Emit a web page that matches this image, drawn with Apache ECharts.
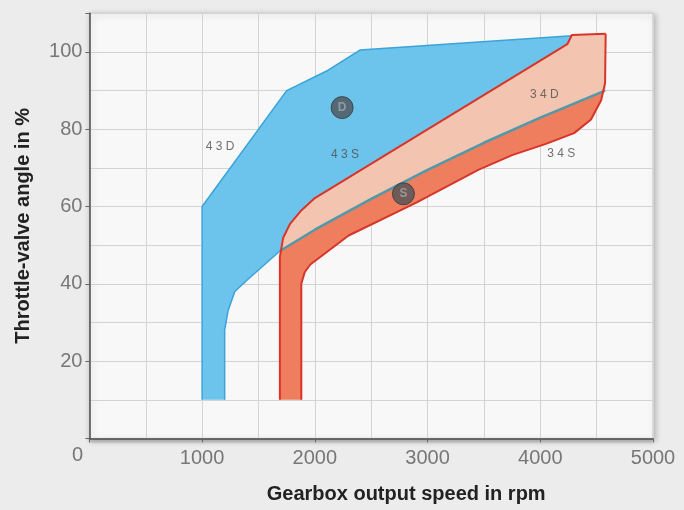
<!DOCTYPE html>
<html>
<head>
<meta charset="utf-8">
<script src="https://cdn.jsdelivr.net/npm/echarts/dist/echarts.min.js"></script>
<style>html,body{margin:0;padding:0;background:#ececec}#c{width:684px;height:510px}</style>
</head>
<body>
<div id="c"></div>
<script>
// ---- data (rpm, throttle %) ----
const xTicks = [0, 1000, 2000, 3000, 4000, 5000];
const yTicks = [0, 20, 40, 60, 80, 100];
// 4-3 downshift D boundary (outer edge of blue region)
const shift43D = [[1000,10],[1000,60],[1750,90],[2100,95],[2400,100.5],[4280,104.2]];
// inner (low-throttle) edge of blue region
const blueInner = [[1200,10],[1200,28],[1230,33],[1290,38],[1400,41],[1690,48.5]];
// 4-3 downshift S line (teal)
const shift43S = [[1690,48.5],[2000,54],[2500,62],[3000,69.5],[3500,76.5],[4000,83],[4575,90]];
// 3-4 upshift D line (upper red)
const shift34D = [[1690,10],[1690,47],[1720,52],[1780,55.5],[1880,59],[2000,62.2],[4240,102],[4280,104.4],[4580,104.7]];
// 3-4 upshift S line (lower red)
const shift34S = [[1880,10],[1880,40],[1910,43],[1960,45],[2300,52.5],[2900,61],[3450,69.5],[3750,73.3],[4050,76.2],[4300,79],[4450,82.5],[4540,87.5],[4575,92],[4580,104.7]];
// region labels
const curveLabels = ['4 3 D', '4 3 S', '3 4 D', '3 4 S'];
const curveLabelPos = [[1160,75.5],[2268,73.4],[4035,88.9],[4186,73.8]];
// circled mode markers
const modeNames = ['D', 'S'];
const modePos = [[2242,85.6],[2786,63.3]];

// polygons built from the boundary arrays
const bluePoly = [...shift43D, [4580,104.5], ...shift43S.slice().reverse(), ...blueInner.slice().reverse()];
const orangePoly = [...shift34D, ...shift34S.slice().reverse()];
const salmonPoly = [...shift34D.filter(p => p[1] >= 47), [4578,90], ...shift43S.slice().reverse()];

function polySeries(poly, fill, z) {
  return {
    type: 'custom', coordinateSystem: 'cartesian2d', z: z, silent: true,
    data: [poly[0]],
    renderItem: function (params, api) {
      return { type: 'polygon', shape: { points: poly.map(p => api.coord(p)) }, style: { fill: fill } };
    }
  };
}
function lineSeries(pts, color, width, z) {
  return { type: 'line', data: pts, symbol: 'none', z: z, silent: true,
    lineStyle: { color: color, width: width, join: 'round' } };
}

const chart = echarts.init(document.getElementById('c'), null, { renderer: 'canvas' });
chart.setOption({
  animation: false,
  backgroundColor: '#ececec',
  textStyle: { fontFamily: 'Liberation Sans, Arial, sans-serif' },
  grid: {
    left: 89.4, right: 31, top: 13.3, bottom: 71.6, show: true,
    backgroundColor: '#f8f8f8', borderColor: '#c4c4c4', borderWidth: 1,
    shadowColor: 'rgba(0,0,0,0.25)', shadowBlur: 6, shadowOffsetX: 2, shadowOffsetY: 2,
    outerBoundsMode: 'none', containLabel: false
  },
  xAxis: {
    type: 'value', min: xTicks[0], max: xTicks[xTicks.length - 1], interval: 1000,
    name: 'Gearbox output speed in rpm', nameLocation: 'middle', nameGap: 46,
    nameTextStyle: { fontSize: 20, fontWeight: 'bold', color: '#222', padding: [0, 0, 0, 70] },
    axisLine: { show: true, lineStyle: { color: '#4a4a4a', width: 1.5, shadowColor: 'rgba(0,0,0,0.35)', shadowBlur: 3, shadowOffsetY: 2 } },
    axisTick: { show: true, length: 4, lineStyle: { color: '#666' } },
    axisLabel: { color: '#777', fontSize: 20, margin: 10, formatter: v => (v === 0 ? '' : String(v)) },
    splitLine: { show: true, lineStyle: { color: '#d3d3d3', width: 1 } },
    minorTick: { show: false, splitNumber: 2 },
    minorSplitLine: { show: true, lineStyle: { color: '#d3d3d3', width: 1 } }
  },
  yAxis: {
    type: 'value', min: yTicks[0], max: 110, interval: 20,
    name: 'Throttle-valve angle in %', nameLocation: 'middle', nameGap: 56, nameRotate: 90,
    nameTextStyle: { fontSize: 20, fontWeight: 'bold', color: '#222' },
    axisLine: { show: true, lineStyle: { color: '#4a4a4a', width: 1.5 } },
    axisTick: { show: true, length: 4, lineStyle: { color: '#666' } },
    axisLabel: { color: '#777', fontSize: 20, margin: 7, formatter: v => (yTicks.indexOf(v) > 0 ? String(v) : '') },
    splitLine: { show: true, lineStyle: { color: '#d3d3d3', width: 1 } },
    minorTick: { show: false, splitNumber: 2 },
    minorSplitLine: { show: true, lineStyle: { color: '#d3d3d3', width: 1 } }
  },
  graphic: [{
    type: 'text', left: 72, top: 445, silent: true,
    style: { text: String(xTicks[0]), fill: '#777', fontSize: 20, fontFamily: 'Liberation Sans, Arial, sans-serif' }
  }],
  series: [
    polySeries(bluePoly, '#6cc4ec', 2),
    lineSeries(shift43D, '#3aa3da', 1.5, 3),
    lineSeries(blueInner, '#3aa3da', 1.5, 3),
    polySeries(orangePoly, '#ee7e5d', 4),
    polySeries(salmonPoly, '#f3c4b0', 5),
    lineSeries(shift43S, '#4f9aaa', 2.5, 6),
    lineSeries(shift34D, '#d8352a', 2, 7),
    lineSeries(shift34S, '#d8352a', 2, 7),
    {
      type: 'scatter', z: 8, silent: true, symbolSize: 0,
      data: curveLabelPos.map((p, i) => ({ value: p, name: curveLabels[i] })),
      label: { show: true, position: 'inside', formatter: p => p.name, fontSize: 12, color: '#4d4d4d' }
    },
    {
      type: 'scatter', z: 9, silent: true, symbol: 'circle', symbolSize: 22,
      itemStyle: { color: '#4d5357', borderColor: '#35393c', borderWidth: 1 },
      data: modePos.map((p, i) => ({ value: p, name: modeNames[i] })),
      label: { show: true, position: 'inside', formatter: p => p.name, fontSize: 12, fontWeight: 'bold', color: '#a0a6ab' }
    }
  ]
});
</script>
</body>
</html>
